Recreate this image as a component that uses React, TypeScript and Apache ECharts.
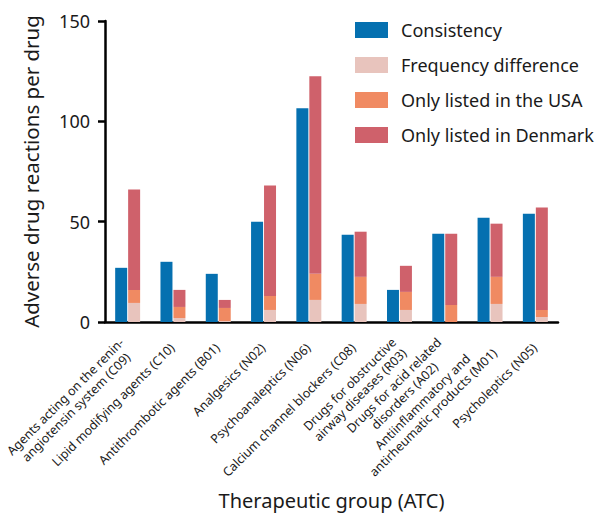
import React, { useEffect, useRef } from "react";
import * as echarts from "echarts";

const categories = [
  "Agents acting on the renin-\nangiotensin system (C09)",
  "Lipid modifying agents (C10)",
  "Antithrombotic agents (B01)",
  "Analgesics (N02)",
  "Psychoanaleptics (N06)",
  "Calcium channel blockers (C08)",
  "Drugs for obstructive\nairway diseases (R03)",
  "Drugs for acid related\ndisorders (A02)",
  "Antiinflammatory and\nantirheumatic products (M01)",
  "Psycholeptics (N05)",
];
const consistency = [27, 30, 24, 50, 106.5, 43.5, 16, 44, 52, 54];
const frequencyDifference = [9.5, 2, 0.5, 6, 11, 9, 6, 0, 9, 2.5];
const onlyUSA = [6.5, 5.5, 6.5, 7, 13, 13.5, 9, 8.5, 13.5, 3.5];
const onlyDenmark = [50, 8.5, 4, 55, 98.5, 22.5, 13, 35.5, 26.5, 51];
const yTicks = [0, 50, 100, 150];

const FONT = "Noto Sans";
const LABEL_SIZE = 12.5;

function measure(text: string): number {
  const c = document.createElement("canvas");
  const ctx = c.getContext("2d");
  if (!ctx) return text.length * LABEL_SIZE * 0.5;
  ctx.font = `${LABEL_SIZE}px "${FONT}"`;
  return ctx.measureText(text).width;
}

export default function App() {
  const ref = useRef<HTMLDivElement>(null);
  useEffect(() => {
    if (!ref.current) return;
    const rich: Record<string, any> = {};
    categories.forEach((cat, i) => {
      const lines = cat.split("\n");
      const widths = lines.map(measure);
      const maxW = Math.max(...widths);
      lines.forEach((_, j) => {
        rich[`k${i}_${j}`] = {
          fontSize: LABEL_SIZE,
          lineHeight: 15,
          fontFamily: FONT,
          color: "#1a1a1a",
          width: Math.ceil(maxW) + 1,
          align: "center",
        };
      });
    });
    const chart = echarts.init(ref.current, undefined, { renderer: "svg" });
    chart.setOption({
      animation: false,
      textStyle: { fontFamily: FONT },
      legend: {
        orient: "vertical",
        left: 350,
        top: 16,
        itemWidth: 33,
        itemHeight: 16,
        itemGap: 17,
        icon: "rect",
        textStyle: {
          fontSize: 18,
          lineHeight: 18,
          color: "#1a1a1a",
          fontFamily: FONT,
          padding: [0, 0, 0, 8],
        },
        data: ["Consistency", "Frequency difference", "Only listed in the USA", "Only listed in Denmark"],
      },
      grid: { left: 105, right: 42, top: 21, bottom: 191, containLabel: false, outerBoundsMode: "none" },
      xAxis: {
        type: "category",
        data: categories,
        name: "Therapeutic group (ATC)",
        nameLocation: "middle",
        nameGap: 168,
        nameTextStyle: { fontSize: 20, color: "#1a1a1a", fontFamily: FONT },
        axisLine: { lineStyle: { color: "#000", width: 2.5 } },
        axisTick: { alignWithLabel: true, length: 6, lineStyle: { color: "#000", width: 2.5 } },
        axisLabel: {
          interval: 0,
          rotate: 45,
          fontSize: LABEL_SIZE,
          lineHeight: 15,
          color: "#1a1a1a",
          fontFamily: FONT,
          margin: 23,
          formatter: (value: string, index: number) =>
            value
              .split("\n")
              .map((l, j) => `{k${index}_${j}|${l}}`)
              .join("\n"),
          rich,
        },
      },
      yAxis: {
        type: "value",
        min: 0,
        max: yTicks[yTicks.length - 1],
        interval: 50,
        name: "Adverse drug reactions per drug",
        nameLocation: "middle",
        nameGap: 64,
        nameTextStyle: { fontSize: 20.5, color: "#1a1a1a", fontFamily: FONT },
        axisLine: { show: true, lineStyle: { color: "#000", width: 2.5 } },
        axisTick: { show: true, length: 7, lineStyle: { color: "#000", width: 2.5 } },
        axisLabel: { fontSize: 18, color: "#1a1a1a", fontFamily: FONT, margin: 15 },
        splitLine: { show: false },
      },
      series: [
        {
          name: "Consistency",
          type: "bar",
          data: consistency,
          barWidth: 12,
          barGap: "8%",
          itemStyle: { color: "#0570b0" },
        },
        {
          name: "Frequency difference",
          type: "bar",
          stack: "s",
          data: frequencyDifference,
          barWidth: 12,
          itemStyle: { color: "#e8c4bd" },
        },
        {
          name: "Only listed in the USA",
          type: "bar",
          stack: "s",
          data: onlyUSA,
          barWidth: 12,
          itemStyle: { color: "#f08a62" },
        },
        {
          name: "Only listed in Denmark",
          type: "bar",
          stack: "s",
          data: onlyDenmark,
          barWidth: 12,
          itemStyle: { color: "#cf616b" },
        },
      ],
    });
    return () => chart.dispose();
  }, []);
  return (
    <div
      ref={ref}
      style={{ position: "fixed", left: 0, top: 0, width: 600, height: 513, background: "#fff" }}
    />
  );
}
